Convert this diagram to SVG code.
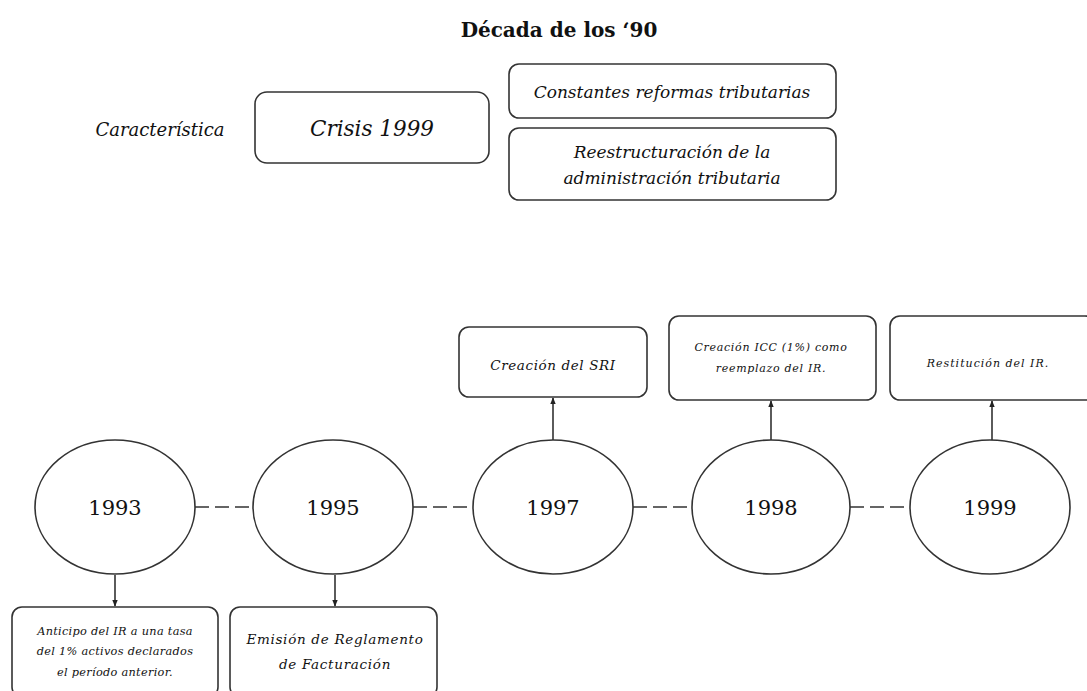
<svg xmlns="http://www.w3.org/2000/svg" width="1087" height="691" viewBox="0 0 1087 691">
<style>
.box{fill:#fff;stroke:#333;stroke-width:1.6}
.ell{fill:#fff;stroke:#333;stroke-width:1.6}
.it{font-family:"DejaVu Serif","Liberation Serif",serif;font-style:italic;fill:#111;text-anchor:middle}
.yr{font-family:"DejaVu Serif","Liberation Serif",serif;font-size:21px;fill:#111;text-anchor:middle}
.con{stroke:#333;stroke-width:1.6;fill:none}
.dash{stroke:#333;stroke-width:1.6;stroke-dasharray:14 6;fill:none}
</style>
<defs>
<marker id="ah" viewBox="0 0 10 10" refX="9" refY="5" markerWidth="7" markerHeight="7" orient="auto" markerUnits="userSpaceOnUse">
<path d="M0,1 L10,5 L0,9 Z" fill="#222"/>
</marker>
</defs>
<rect width="1087" height="691" fill="#fff"/>
<text x="559" y="37" font-family="DejaVu Serif,serif" font-weight="bold" font-size="20" text-anchor="middle" fill="#111">Década de los ‘90</text>
<g id="caracteristica"><text class="it" x="160" y="136" font-size="18">Característica</text></g>
<g id="crisis"><rect class="box" x="255" y="92" width="234" height="71" rx="12"/><text class="it" x="372" y="136" font-size="21.5">Crisis 1999</text></g>
<g id="constantes"><rect class="box" x="509" y="64" width="327" height="54" rx="10"/><text class="it" x="672" y="98" font-size="17">Constantes reformas tributarias</text></g>
<g id="reestructuracion"><rect class="box" x="509" y="128" width="327" height="72" rx="10"/><text class="it" x="672" y="158" font-size="17">Reestructuración de la</text><text class="it" x="672" y="184" font-size="17">administración tributaria</text></g>

<g id="connectors">
<line class="dash" x1="195" y1="507" x2="253" y2="507"/>
<line class="dash" x1="413" y1="507" x2="473" y2="507"/>
<line class="dash" x1="633" y1="507" x2="692" y2="507"/>
<line class="dash" x1="850" y1="507" x2="910" y2="507"/>
<line class="con" x1="115" y1="575" x2="115" y2="606" marker-end="url(#ah)"/>
<line class="con" x1="335" y1="575" x2="335" y2="606" marker-end="url(#ah)"/>
<line class="con" x1="553" y1="440" x2="553" y2="398" marker-end="url(#ah)"/>
<line class="con" x1="771" y1="440" x2="771" y2="401" marker-end="url(#ah)"/>
<line class="con" x1="992" y1="440" x2="992" y2="401" marker-end="url(#ah)"/>
</g>

<g id="y1993"><ellipse class="ell" cx="115" cy="507" rx="80" ry="67"/><text class="yr" x="115" y="515">1993</text></g>
<g id="y1995"><ellipse class="ell" cx="333" cy="507" rx="80" ry="67"/><text class="yr" x="333" y="515">1995</text></g>
<g id="y1997"><ellipse class="ell" cx="553" cy="507" rx="80" ry="67"/><text class="yr" x="553" y="515">1997</text></g>
<g id="y1998"><ellipse class="ell" cx="771" cy="507" rx="79" ry="67"/><text class="yr" x="771" y="515">1998</text></g>
<g id="y1999"><ellipse class="ell" cx="990" cy="507" rx="80" ry="67"/><text class="yr" x="990" y="515">1999</text></g>

<g id="sri"><rect class="box" x="459" y="327" width="188" height="70" rx="10"/><text class="it" x="553" y="370" font-size="13.5" letter-spacing="0.6">Creación del SRI</text></g>
<g id="icc"><rect class="box" x="669" y="316" width="207" height="84" rx="10"/><text class="it" x="771" y="351" font-size="11" letter-spacing="0.7">Creación ICC (1%) como</text><text class="it" x="771" y="372" font-size="11" letter-spacing="0.7">reemplazo del IR.</text></g>
<g id="restitucion"><rect class="box" x="890" y="316" width="205" height="84" rx="10"/><text class="it" x="988" y="367" font-size="11" letter-spacing="1">Restitución del IR.</text></g>
<g id="anticipo"><rect class="box" x="12" y="607" width="206" height="90" rx="10"/><text class="it" x="115" y="635" font-size="11.3" letter-spacing="0.3">Anticipo del IR a una tasa</text><text class="it" x="115" y="655" font-size="11.3" letter-spacing="0.3">del 1% activos declarados</text><text class="it" x="115" y="676" font-size="11.3" letter-spacing="0.3">el período anterior.</text></g>
<g id="emision"><rect class="box" x="230" y="607" width="207" height="90" rx="10"/><text class="it" x="335" y="644" font-size="13.5" letter-spacing="0.7">Emisión de Reglamento</text><text class="it" x="335" y="669" font-size="13.5" letter-spacing="0.7">de Facturación</text></g>
</svg>
